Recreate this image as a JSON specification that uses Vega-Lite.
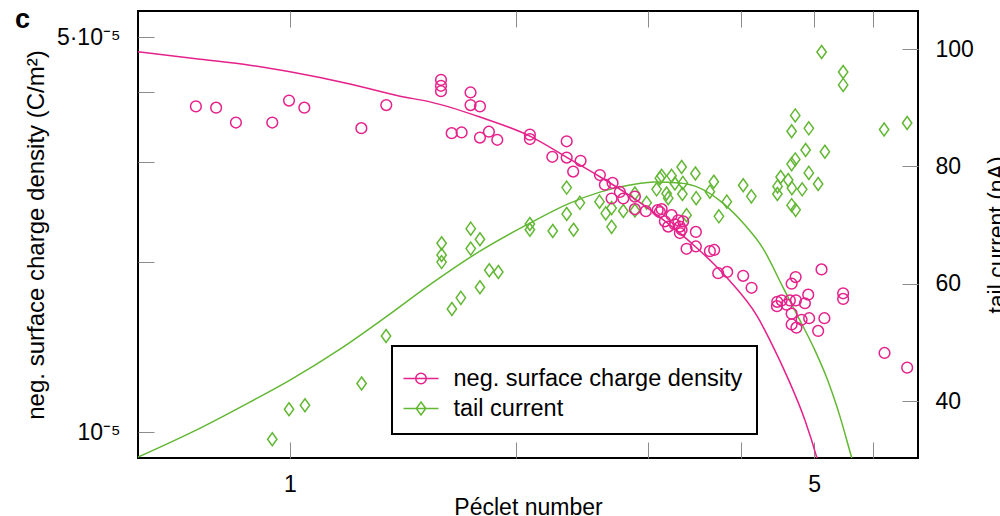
{
  "$schema": "https://vega.github.io/schema/vega-lite/v6.json",
  "width": 780,
  "height": 447,
  "autosize": "none",
  "padding": {"left": 138, "top": 11, "right": 82, "bottom": 58},
  "background": "white",
  "title": {"text": "c", "anchor": "start", "frame": "group", "fontSize": 27, "fontWeight": "bold", "color": "black", "font": "Liberation Sans", "offset": 0, "dx": -123, "dy": 44, "baseline": "alphabetic"},
  "config": {
    "font": "Liberation Sans",
    "view": {"stroke": "black", "strokeWidth": 2},
    "axis": {"grid": false, "domain": false, "tickColor": "#8c8c8c", "tickWidth": 1, "tickSize": -16, "labelFontSize": 23, "titleFontSize": 23, "titleFontWeight": "normal", "labelColor": "black", "titleColor": "black", "labelFont": "Liberation Sans", "titleFont": "Liberation Sans", "labelOverlap": false, "labelFlush": false},
    "legend": {"strokeColor": "black", "strokeWidth": 2, "fillColor": "white", "labelFontSize": 23.5, "labelFont": "Liberation Sans", "labelColor": "black", "labelLimit": 500, "symbolSize": 1225, "symbolStrokeWidth": 1.5, "symbolOpacity": 1, "padding": 14, "rowPadding": -5, "labelOffset": 14, "symbolOffset": -3.5}
  },
  "datasets": {
    "pinkPts": [
      {"pe":0.749,"s":3.77e-5},{"pe":0.797,"s":3.75e-5},{"pe":0.847,"s":3.53e-5},{"pe":0.947,"s":3.53e-5},{"pe":0.997,"s":3.86e-5},{"pe":1.045,"s":3.75e-5},{"pe":1.245,"s":3.45e-5},{"pe":1.344,"s":3.79e-5},{"pe":1.590,"s":4.20e-5},{"pe":1.590,"s":4.10e-5},{"pe":1.590,"s":4.01e-5},{"pe":1.741,"s":3.99e-5},{"pe":1.741,"s":3.79e-5},{"pe":1.792,"s":3.77e-5},{"pe":1.643,"s":3.38e-5},{"pe":1.694,"s":3.39e-5},{"pe":1.792,"s":3.32e-5},{"pe":1.842,"s":3.40e-5},{"pe":1.890,"s":3.29e-5},{"pe":2.089,"s":3.36e-5},{"pe":2.089,"s":3.30e-5},{"pe":2.339,"s":3.27e-5},{"pe":2.238,"s":3.07e-5},{"pe":2.339,"s":3.06e-5},{"pe":2.441,"s":3.02e-5},{"pe":2.386,"s":2.89e-5},{"pe":2.590,"s":2.85e-5},{"pe":2.630,"s":2.74e-5},{"pe":2.693,"s":2.76e-5},{"pe":2.685,"s":2.59e-5},{"pe":2.754,"s":2.66e-5},{"pe":2.783,"s":2.59e-5},{"pe":2.884,"s":2.61e-5},{"pe":2.884,"s":2.48e-5},{"pe":2.983,"s":2.46e-5},{"pe":3.093,"s":2.47e-5},{"pe":3.131,"s":2.48e-5},{"pe":3.114,"s":2.45e-5},{"pe":3.228,"s":2.42e-5},{"pe":3.162,"s":2.36e-5},{"pe":3.195,"s":2.31e-5},{"pe":3.294,"s":2.37e-5},{"pe":3.311,"s":2.31e-5},{"pe":3.261,"s":2.33e-5},{"pe":3.329,"s":2.28e-5},{"pe":3.345,"s":2.36e-5},{"pe":3.311,"s":2.25e-5},{"pe":3.478,"s":2.26e-5},{"pe":3.380,"s":2.11e-5},{"pe":3.478,"s":2.13e-5},{"pe":3.631,"s":2.09e-5},{"pe":3.679,"s":2.10e-5},{"pe":3.725,"s":1.91e-5},{"pe":3.829,"s":1.92e-5},{"pe":4.022,"s":1.89e-5},{"pe":4.127,"s":1.80e-5},{"pe":4.465,"s":1.70e-5},{"pe":4.461,"s":1.67e-5},{"pe":4.526,"s":1.71e-5},{"pe":4.596,"s":1.68e-5},{"pe":4.667,"s":1.83e-5},{"pe":4.725,"s":1.88e-5},{"pe":4.642,"s":1.71e-5},{"pe":4.729,"s":1.71e-5},{"pe":4.861,"s":1.69e-5},{"pe":4.911,"s":1.75e-5},{"pe":4.667,"s":1.62e-5},{"pe":4.667,"s":1.55e-5},{"pe":4.736,"s":1.53e-5},{"pe":4.812,"s":1.58e-5},{"pe":4.925,"s":1.59e-5},{"pe":5.063,"s":1.51e-5},{"pe":5.161,"s":1.59e-5},{"pe":5.116,"s":1.94e-5},{"pe":5.467,"s":1.76e-5},{"pe":5.467,"s":1.72e-5},{"pe":6.208,"s":1.38e-5},{"pe":6.655,"s":1.30e-5}
    ],
    "pinkFit": [
      {"pe":0.627,"s":4.71e-5},{"pe":0.759,"s":4.57e-5},{"pe":0.884,"s":4.46e-5},{"pe":1.0,"s":4.34e-5},{"pe":1.202,"s":4.13e-5},{"pe":1.402,"s":3.93e-5},{"pe":1.537,"s":3.84e-5},{"pe":1.792,"s":3.61e-5},{"pe":2.089,"s":3.34e-5},{"pe":2.362,"s":3.04e-5},{"pe":2.590,"s":2.83e-5},{"pe":2.840,"s":2.62e-5},{"pe":3.048,"s":2.452e-5},{"pe":3.311,"s":2.249e-5},{"pe":3.489,"s":2.117e-5},{"pe":3.687,"s":1.975e-5},{"pe":3.861,"s":1.85e-5},{"pe":4.196,"s":1.605e-5},{"pe":4.392,"s":1.431e-5},{"pe":4.600,"s":1.256e-5},{"pe":4.861,"s":1.05e-5},{"pe":5.044,"s":0.8995e-5},{"pe":5.121,"s":0.836e-5}
    ],
    "greenPts": [
      {"pe":0.947,"i":33.5},{"pe":0.997,"i":38.6},{"pe":1.047,"i":39.3},{"pe":1.246,"i":43.0},{"pe":1.343,"i":51.1},{"pe":1.593,"i":66.9},{"pe":1.593,"i":64.9},{"pe":1.593,"i":63.7},{"pe":1.644,"i":55.7},{"pe":1.690,"i":57.6},{"pe":1.792,"i":59.4},{"pe":1.742,"i":69.4},{"pe":1.742,"i":66.0},{"pe":1.792,"i":67.6},{"pe":1.844,"i":62.3},{"pe":1.896,"i":62.0},{"pe":2.089,"i":70.2},{"pe":2.089,"i":69.2},{"pe":2.241,"i":69.0},{"pe":2.339,"i":76.4},{"pe":2.339,"i":71.9},{"pe":2.389,"i":69.2},{"pe":2.436,"i":73.8},{"pe":2.587,"i":74.0},{"pe":2.637,"i":72.0},{"pe":2.685,"i":69.7},{"pe":2.685,"i":72.9},{"pe":2.783,"i":72.4},{"pe":2.884,"i":75.4},{"pe":2.884,"i":72.5},{"pe":2.990,"i":73.8},{"pe":3.083,"i":76.1},{"pe":3.131,"i":78.4},{"pe":3.114,"i":78.0},{"pe":3.179,"i":75.4},{"pe":3.195,"i":74.6},{"pe":3.228,"i":78.4},{"pe":3.261,"i":77.1},{"pe":3.329,"i":79.9},{"pe":3.342,"i":77.2},{"pe":3.337,"i":75.3},{"pe":3.380,"i":71.7},{"pe":3.473,"i":78.8},{"pe":3.481,"i":74.6},{"pe":3.631,"i":75.7},{"pe":3.675,"i":77.4},{"pe":3.733,"i":71.5},{"pe":3.825,"i":74.0},{"pe":4.022,"i":76.8},{"pe":4.124,"i":74.9},{"pe":5.117,"i":99.5},{"pe":5.467,"i":96.1},{"pe":5.467,"i":93.9},{"pe":4.719,"i":88.7},{"pe":4.667,"i":86.0},{"pe":4.920,"i":86.5},{"pe":4.872,"i":82.8},{"pe":5.169,"i":82.5},{"pe":4.719,"i":81.2},{"pe":4.667,"i":80.4},{"pe":4.920,"i":78.9},{"pe":5.063,"i":77.0},{"pe":4.512,"i":78.2},{"pe":4.470,"i":76.6},{"pe":4.467,"i":75.3},{"pe":4.618,"i":77.7},{"pe":4.671,"i":76.3},{"pe":4.821,"i":76.1},{"pe":4.667,"i":73.4},{"pe":4.725,"i":72.6},{"pe":6.200,"i":86.3},{"pe":6.654,"i":87.4}
    ],
    "greenFit": [
      {"pe":0.627,"i":30.45},{"pe":0.759,"i":35.4},{"pe":0.884,"i":39.83},{"pe":1.0,"i":43.58},{"pe":1.166,"i":48.86},{"pe":1.347,"i":54.49},{"pe":1.547,"i":60.11},{"pe":1.792,"i":65.57},{"pe":2.089,"i":70.34},{"pe":2.362,"i":73.75},{"pe":2.590,"i":75.62},{"pe":2.840,"i":76.82},{"pe":3.067,"i":77.33},{"pe":3.311,"i":77.16},{"pe":3.521,"i":76.31},{"pe":3.779,"i":73.75},{"pe":4.044,"i":70.0},{"pe":4.272,"i":66.08},{"pe":4.543,"i":59.43},{"pe":4.786,"i":53.81},{"pe":5.012,"i":48.69},{"pe":5.200,"i":43.92},{"pe":5.412,"i":37.44},{"pe":5.615,"i":30.28},{"pe":5.686,"i":27.9}
    ],
    "legendRows": [
      {"series": "neg. surface charge density"},
      {"series": "tail current"}
    ]
  },
  "layer": [
    {
      "layer": [
        {
          "data": {"name": "greenFit"},
          "mark": {"type": "line", "color": "#62b733", "strokeWidth": 1.5, "clip": true, "interpolate": "monotone"},
          "encoding": {
            "x": {"field": "pe", "type": "quantitative", "scale": {"type": "log", "domain": [0.627, 6.88], "nice": false}, "axis": {"orient": "top", "labels": false, "title": null, "values": [1, 2, 3, 4, 5, 6]}},
            "y": {"field": "i", "type": "quantitative", "scale": {"domain": [30.3, 106.5], "nice": false, "zero": false}, "axis": {"orient": "right", "values": [40, 60, 80, 100], "title": "tail current (nA)", "titleAngle": 270, "titleBaseline": "top", "labelPadding": 33, "titlePadding": 13}}
          }
        },
        {
          "data": {"name": "greenPts"},
          "mark": {"type": "point", "shape": "M0,-1L0.72,0L0,1L-0.72,0Z", "filled": false, "color": "#62b733", "strokeWidth": 1.5, "size": 169, "opacity": 1},
          "encoding": {
            "x": {"field": "pe", "type": "quantitative", "scale": {"type": "log", "domain": [0.627, 6.88], "nice": false}, "axis": {"orient": "top", "labels": false, "title": null, "values": [1, 2, 3, 4, 5, 6]}},
            "y": {"field": "i", "type": "quantitative", "scale": {"domain": [30.3, 106.5], "nice": false, "zero": false}, "axis": {"orient": "right", "values": [40, 60, 80, 100], "title": "tail current (nA)", "titleAngle": 270, "titleBaseline": "top", "labelPadding": 33, "titlePadding": 13}}
          }
        }
      ]
    },
    {
      "layer": [
        {
          "data": {"name": "pinkFit"},
          "mark": {"type": "line", "color": "#e5218b", "strokeWidth": 1.5, "clip": true, "interpolate": "monotone"},
          "encoding": {
            "x": {"field": "pe", "type": "quantitative", "scale": {"type": "log", "domain": [0.627, 6.88], "nice": false}, "axis": {"orient": "bottom", "title": "Péclet number", "values": [1, 2, 3, 4, 5, 6], "labelExpr": "datum.value == 1 ? '1' : (datum.value == 5 ? '5' : '')", "labelPadding": 31, "titlePadding": 0}},
            "y": {"field": "s", "type": "quantitative", "scale": {"type": "log", "domain": [8.995e-6, 5.561e-5], "nice": false}, "axis": {"orient": "left", "title": "neg. surface charge density (C/m²)", "titleFontSize": 24, "values": [1e-5, 2e-5, 3e-5, 4e-5, 5e-5], "labelExpr": "datum.value < 1.5e-5 ? '10⁻⁵' : (datum.value > 4.5e-5 ? '5·10⁻⁵' : '')", "labelPadding": 34, "titlePadding": 8}}
          }
        },
        {
          "data": {"name": "pinkPts"},
          "mark": {"type": "point", "shape": "circle", "filled": false, "color": "#e5218b", "strokeWidth": 1.5, "size": 115, "opacity": 1},
          "encoding": {
            "x": {"field": "pe", "type": "quantitative", "scale": {"type": "log", "domain": [0.627, 6.88], "nice": false}, "axis": {"orient": "bottom", "title": "Péclet number", "values": [1, 2, 3, 4, 5, 6], "labelExpr": "datum.value == 1 ? '1' : (datum.value == 5 ? '5' : '')", "labelPadding": 31, "titlePadding": 0}},
            "y": {"field": "s", "type": "quantitative", "scale": {"type": "log", "domain": [8.995e-6, 5.561e-5], "nice": false}, "axis": {"orient": "left", "title": "neg. surface charge density (C/m²)", "titleFontSize": 24, "values": [1e-5, 2e-5, 3e-5, 4e-5, 5e-5], "labelExpr": "datum.value < 1.5e-5 ? '10⁻⁵' : (datum.value > 4.5e-5 ? '5·10⁻⁵' : '')", "labelPadding": 34, "titlePadding": 8}}
          }
        }
      ]
    },
    {
      "data": {"name": "legendRows"},
      "mark": {"type": "point", "filled": false, "opacity": 0, "strokeWidth": 1.5},
      "encoding": {
        "color": {"field": "series", "type": "nominal", "scale": {"domain": ["neg. surface charge density", "tail current"], "range": ["#e5218b", "#62b733"]},
          "legend": {"orient": "none", "legendX": 254, "legendY": 335, "title": null, "labelExpr": "datum.label + '\u00a0\u00a0'"}},
        "shape": {"field": "series", "type": "nominal", "scale": {"domain": ["neg. surface charge density", "tail current"], "range": ["M-1,0L1,0M-0.3,0A0.3,0.3,0,1,0,0.3,0A0.3,0.3,0,1,0,-0.3,0", "M-1,0L1,0M0,-0.37L0.27,0L0,0.37L-0.27,0Z"]},
          "legend": {"orient": "none", "legendX": 254, "legendY": 335, "title": null, "labelExpr": "datum.label + '\u00a0\u00a0'"}}
      }
    }
  ],
  "resolve": {"scale": {"y": "independent"}}
}
